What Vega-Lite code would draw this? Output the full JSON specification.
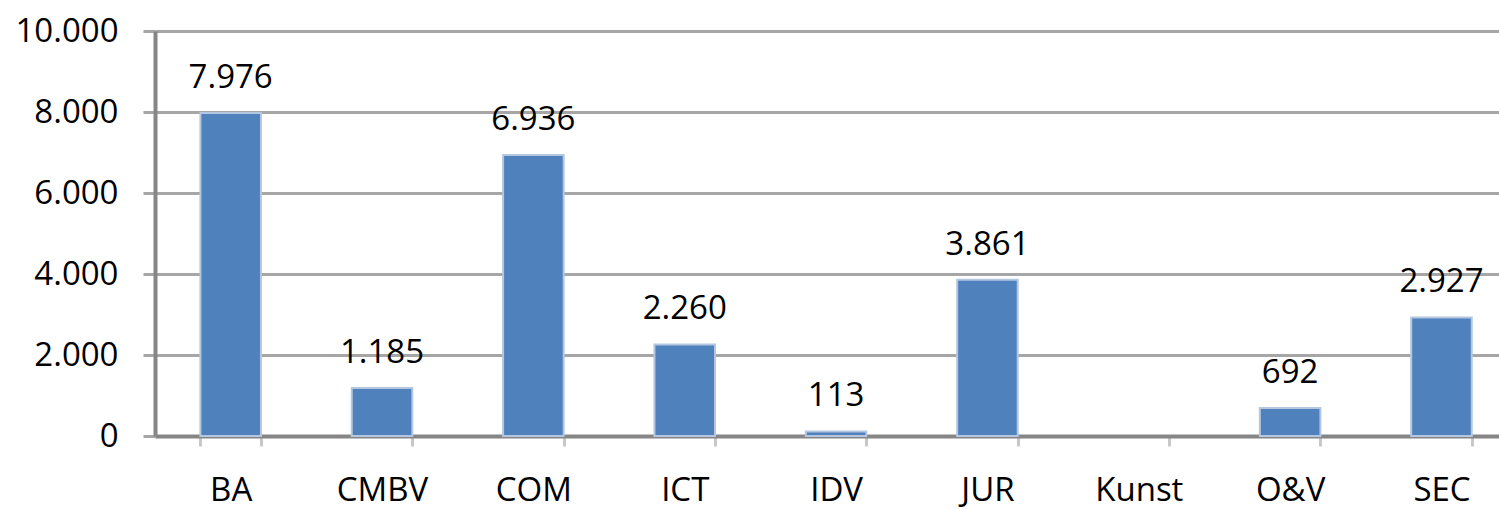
{
  "$schema": "https://vega.github.io/schema/vega-lite/v6.json",
  "autosize": {"type": "none"},
  "width": 1344,
  "height": 405,
  "padding": {"left": 155, "top": 31, "right": 0, "bottom": 73},
  "background": "white",
  "config": {
    "locale": {"number": {"decimal": ",", "thousands": ".", "grouping": [3], "currency": ["€", ""]}},
    "view": {"stroke": null},
    "font": "Open Sans"
  },
  "data": {
    "values": [
      {"cat": "BA", "value": 7976},
      {"cat": "CMBV", "value": 1185},
      {"cat": "COM", "value": 6936},
      {"cat": "ICT", "value": 2260},
      {"cat": "IDV", "value": 113},
      {"cat": "JUR", "value": 3861},
      {"cat": "Kunst", "value": 0},
      {"cat": "O&V", "value": 692},
      {"cat": "SEC", "value": 2927}
    ]
  },
  "encoding": {
    "x": {
      "field": "cat",
      "type": "nominal",
      "sort": null,
      "scale": {"domain": ["BA", "CMBV", "COM", "ICT", "IDV", "JUR", "Kunst", "O&V", "SEC"], "paddingInner": 0.6, "paddingOuter": 0.24, "align": 0.625},
      "axis": {
        "title": null,
        "labelAngle": 0,
        "labelFont": "Open Sans",
        "labelFontSize": 33,
        "labelColor": "#000000",
        "labelPadding": 28,
        "tickBand": "extent",
        "tickSize": 10,
        "tickWidth": 3,
        "tickColor": "#c8c8c8",
        "domainColor": "#868686",
        "domainWidth": 4,
        "grid": false
      }
    },
    "y": {
      "field": "value",
      "type": "quantitative",
      "scale": {"domain": [0, 10000], "nice": false},
      "axis": {
        "title": null,
        "values": [0, 2000, 4000, 6000, 8000, 10000],
        "format": ",d",
        "labelFont": "Open Sans",
        "labelFontSize": 33,
        "labelColor": "#000000",
        "labelPadding": 25,
        "tickSize": 12,
        "tickWidth": 3,
        "tickColor": "#a6a6a6",
        "grid": true,
        "gridColor": "#a6a6a6",
        "gridWidth": 3,
        "domainColor": "#868686",
        "domainWidth": 4
      }
    }
  },
  "layer": [
    {
      "transform": [{"filter": "datum.value > 0"}],
      "mark": {"type": "bar", "color": "#4f81bd", "stroke": "#b4c6e0", "strokeWidth": 2}
    },
    {
      "transform": [{"filter": "datum.value > 0"}],
      "mark": {"type": "text", "baseline": "alphabetic", "dy": -25, "fontSize": 33, "font": "Open Sans", "color": "#000000"},
      "encoding": {"text": {"field": "value", "type": "quantitative", "format": ",d"}}
    }
  ]
}
